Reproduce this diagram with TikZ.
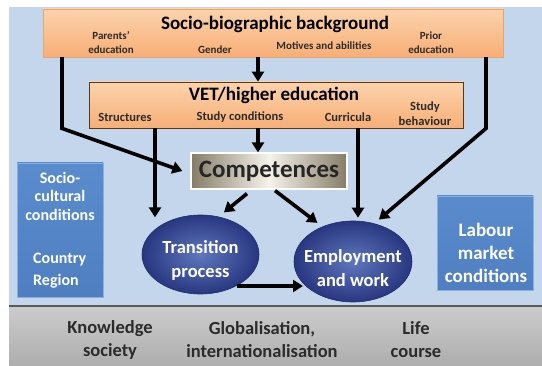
\documentclass[tikz,border=0pt]{standalone}
\usepackage{fontspec}
\setmainfont{Carlito}
\usetikzlibrary{arrows.meta,shapes.geometric,calc}
\definecolor{bgblue}{HTML}{C3D6EC}
\definecolor{peachtop}{HTML}{FCD3AC}
\definecolor{peachbot}{HTML}{F7AE76}
\definecolor{sideblue}{HTML}{5A8CCD}
\definecolor{sideblue2}{HTML}{4F7FC0}
\definecolor{navyin}{HTML}{5F77BD}
\definecolor{navyout}{HTML}{283780}
\definecolor{compdark}{HTML}{857C68}
\definecolor{complight}{HTML}{F6F3EA}
\definecolor{txtdark}{HTML}{2B2B2B}
\newcommand{\fs}[2]{\fontsize{#1}{#2}\selectfont}
\begin{document}
\begin{tikzpicture}[x=1pt,y=-1pt,font=\bfseries,
  arr/.style={line width=3.6pt,-{Triangle[length=10pt,width=12pt]}},
  peachbox/.style={rectangle,inner sep=0pt,top color=peachtop,bottom color=peachbot},
  sidebox/.style={rectangle,inner sep=0pt,top color=sideblue,bottom color=sideblue2,draw=sideblue!70!white,line width=0.8pt},
  oval/.style={ellipse,inner sep=0pt,shading=radial,inner color=navyin,outer color=navyout,draw=navyout!80!black,line width=0.6pt},
  lbl/.style={inner sep=0pt,align=center},
  white text/.style={text=white}]
\useasboundingbox (0,0) rectangle (542,366);
\fill[white] (0,0) rectangle (542,366);
% background
\fill[bgblue] (9,7) rectangle (542,306);
\shade[top color=black!20,bottom color=black!32] (9,306) rectangle (542,366);
\draw[black!65,line width=1.2pt] (9,306) -- (542,306);

% boxes
\node[peachbox,draw=peachbot!90!black!60!peachbot,line width=0.4pt,minimum width=460pt,minimum height=48pt] (sb) at (273,33) {};
\node[peachbox,draw=black!55!brown,line width=0.8pt,minimum width=374pt,minimum height=46pt] (vet) at (276,105) {};
\node[rectangle,inner sep=0pt,draw=white,line width=1.2pt,left color=compdark,right color=compdark,middle color=complight,minimum width=156pt,minimum height=36pt] (comp) at (269,171) {};
\node[sidebox,minimum width=86pt,minimum height=134pt] (scb) at (60,230) {};
\node[sidebox,minimum width=96pt,minimum height=94pt] (lmb) at (485,243) {};
\node[oval,minimum width=117pt,minimum height=79pt] (trans) at (200.5,254.5) {};
\node[oval,minimum width=118pt,minimum height=81pt] (emp) at (353,261.5) {};

% texts
\node[lbl,text=black,font=\bfseries\fs{19}{22}] (sbt) at (275,24) {Socio-biographic background};
\node[lbl,text=txtdark,font=\bfseries\fs{11}{14}] (pe) at (111,43) {Parents'\\education};
\node[lbl,text=txtdark,font=\bfseries\fs{11}{13}] (ge) at (215,50) {Gender};
\node[lbl,text=txtdark,font=\bfseries\fs{11}{13}] (ma) at (324,46) {Motives and abilities};
\node[lbl,text=txtdark,font=\bfseries\fs{11}{14}] (pr) at (431,43) {Prior\\education};

\node[lbl,text=black,font=\bfseries\fs{19}{22}] (vett) at (274,95) {VET/higher education};
\node[lbl,text=txtdark,font=\bfseries\fs{12.5}{15}] (st) at (125,117) {Structures};
\node[lbl,text=txtdark,font=\bfseries\fs{12.5}{15}] (sc) at (240,117) {Study conditions};
\node[lbl,text=txtdark,font=\bfseries\fs{12.5}{15}] (cu) at (348,117) {Curricula};
\node[lbl,text=txtdark,font=\bfseries\fs{12.5}{15}] (sbh) at (425,114) {Study\\behaviour};

\node[lbl,text=black!85,font=\bfseries\fs{25}{29}] (compt) at (comp.center) {Competences};
\node[lbl,white text,font=\bfseries\fs{18.5}{24}] (transt) at (200.5,260) {Transition\\process};
\node[lbl,white text,font=\bfseries\fs{18.5}{24}] (empt) at (353,268.5) {Employment\\and work};

\node[lbl,white text,font=\bfseries\fs{16}{18.5}] (scbt) at (60,196) {Socio-\\cultural\\conditions};
\node[lbl,white text,align=left,anchor=west,font=\bfseries\fs{16}{22}] (scbc) at (33,271) {Country\\Region};
\node[lbl,white text,font=\bfseries\fs{19}{23}] (lmbt) at (486,253) {Labour\\market\\conditions};

\node[lbl,text=txtdark,font=\bfseries\fs{18.5}{23}] (ks) at (110,340) {Knowledge\\society};
\node[lbl,text=txtdark,font=\bfseries\fs{18.5}{23}] (gi) at (262,340) {Globalisation,\\internationalisation};
\node[lbl,text=txtdark,font=\bfseries\fs{18.5}{23}] (lc) at (416,340) {Life\\course};

% column coordinates
\coordinate (cL) at (62,0);
\coordinate (c1) at (155,0);
\coordinate (cM) at (258,0);
\coordinate (c3) at (358,0);
\coordinate (cR) at (486,0);

% connectors
\draw[arr] (sb.south -| cM) -- (vet.north -| cM);
\draw[arr] (vet.south -| cM) -- (comp.north -| cM);
\draw[arr] (vet.south -| c1) -- ([yshift=9pt]trans.north west -| c1);
\draw[arr] (vet.south -| c3) -- ([yshift=3pt]emp.north -| c3);
\draw[arr] (sb.south -| cL) -- (cL |- vet.south) -- ([xshift=-8pt]comp.west);
\draw[arr] (sb.south -| cR) -- (cR |- vet.south) -- ([shift={(4pt,4pt)}]emp.60);
\draw[arr] ([xshift=-22pt,yshift=-4pt]comp.south) -- ([shift={(2pt,5pt)}]trans.60);
\draw[arr] ([xshift=6pt,yshift=-1pt]comp.south) -- ([shift={(-2pt,5pt)}]emp.135);
\draw[arr] ([shift={(36,31.5)}]trans.center) -- ([shift={(-50,24.5)}]emp.center);
\end{tikzpicture}
\end{document}
